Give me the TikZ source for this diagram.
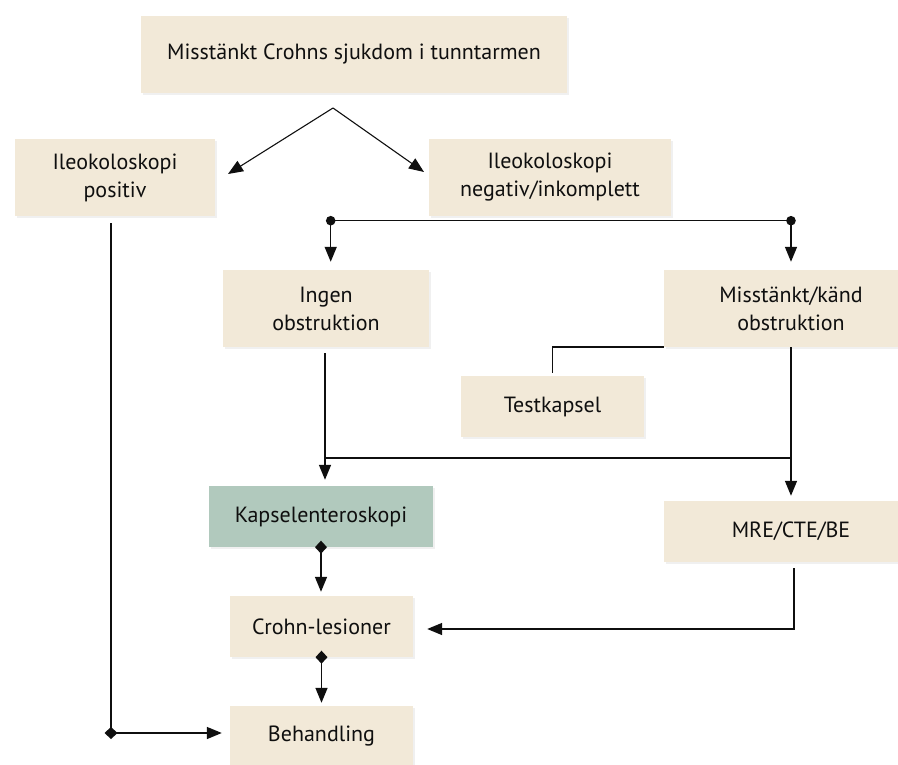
\documentclass[tikz,border=0pt]{standalone}
\usepackage{fontspec}
\setmainfont{PT Sans}
\usetikzlibrary{arrows.meta,shadows}
\definecolor{boxfill}{RGB}{242,233,216}
\definecolor{greenfill}{RGB}{177,201,189}
\definecolor{txt}{RGB}{15,15,15}
\definecolor{ln}{RGB}{15,15,15}
\begin{document}
\begin{tikzpicture}[x=1pt,y=-1pt,
  box/.style={draw=none, fill=boxfill, drop shadow={shadow xshift=1.5pt,shadow yshift=-2pt,opacity=0.12}, align=center, inner sep=0pt, font=\fontsize{22}{28}\selectfont, text=txt},
  conn/.style={draw=ln, line width=1.5pt},
  arr/.style={conn, -{Triangle[length=15pt,width=12pt]}},
  dia/.style={conn, {Diamond[length=13pt,width=12pt]}-{Triangle[length=15pt,width=12pt]}},
]
\useasboundingbox (0,0) rectangle (898,765);
\node[box, minimum width=426, minimum height=77] (top) at (354,54.5) {Misstänkt Crohns sjukdom i tunntarmen};
\node[box, minimum width=200, minimum height=77] (pos) at (115,177.5) {Ileokoloskopi\\positiv};
\node[box, minimum width=242, minimum height=77] (neg) at (550,177.5) {Ileokoloskopi\\negativ/inkomplett};
\node[box, minimum width=206, minimum height=77] (ingen) at (326,308.5) {Ingen\\obstruktion};
\node[box, minimum width=254, minimum height=77] (misst) at (791,308.5) {Misstänkt/känd\\obstruktion};
\node[box, minimum width=183, minimum height=61] (test) at (552.5,406.5) {Testkapsel};
\node[box, fill=greenfill, minimum width=224, minimum height=61] (kapsel) at (321,516.5) {Kapselenteroskopi};
\node[box, minimum width=254, minimum height=61] (mre) at (791,531.5) {MRE/CTE/BE};
\node[box, minimum width=183, minimum height=61] (crohn) at (321.5,626.5) {Crohn-lesioner};
\node[box, minimum width=183, minimum height=61] (beh) at (321.5,736.5) {Behandling};

% top split
\coordinate (sp) at (333,108);
\coordinate (pa) at (228,174);
\coordinate (na) at (424,172);
\draw[arr, line width=1.1pt] (sp) -- (pa);
\draw[arr, line width=1.1pt] (sp) -- (na);

% dotted bar
\coordinate (dl) at (330.7,220.7);
\coordinate (dr) at (791,220.7);
\draw[conn] (dl) -- (dr);
\fill[ln] (dl) circle (4.8);
\fill[ln] (dr) circle (4.8);
\draw[arr, shorten >=8pt] (dl) -- (dl |- ingen.north);
\draw[arr, shorten >=8pt] (dr) -- (dr |- misst.north);

% ingen -> kapsel
\coordinate (jr) at (791,458);
\draw[arr, shorten >=6pt] ([xshift=-1pt,yshift=-6pt]ingen.south) -- ([xshift=-1pt]ingen.south |- kapsel.north);
\draw[conn] (jr) -- ([xshift=-1pt]jr -| ingen.south);

% misst -> mre
\draw[arr, shorten >=5pt] (misst.south) -- (misst.south |- mre.north);
\draw[conn, shorten >=3pt] (misst.south west) -| (test.north);

% kapsel -> crohn -> beh
\draw[dia, shorten >=4pt] ([yshift=6.5pt]kapsel.south) -- (kapsel.south |- crohn.north);
\draw[dia, shorten >=3pt] ([yshift=6.5pt]crohn.south) -- (crohn.south |- beh.north);

% mre -> crohn
\draw[arr] ([xshift=3pt,yshift=-6pt]mre.south) |- ([xshift=14pt,yshift=-2.5pt]crohn.east);

% pos -> beh
\coordinate (pc) at (111,733);
\draw[conn] ([xshift=-4pt,yshift=-7pt]pos.south) -- (pc);
\draw[dia, shorten >=8pt] ([xshift=-6.5pt]pc) -- (pc -| beh.west);
\end{tikzpicture}
\end{document}
